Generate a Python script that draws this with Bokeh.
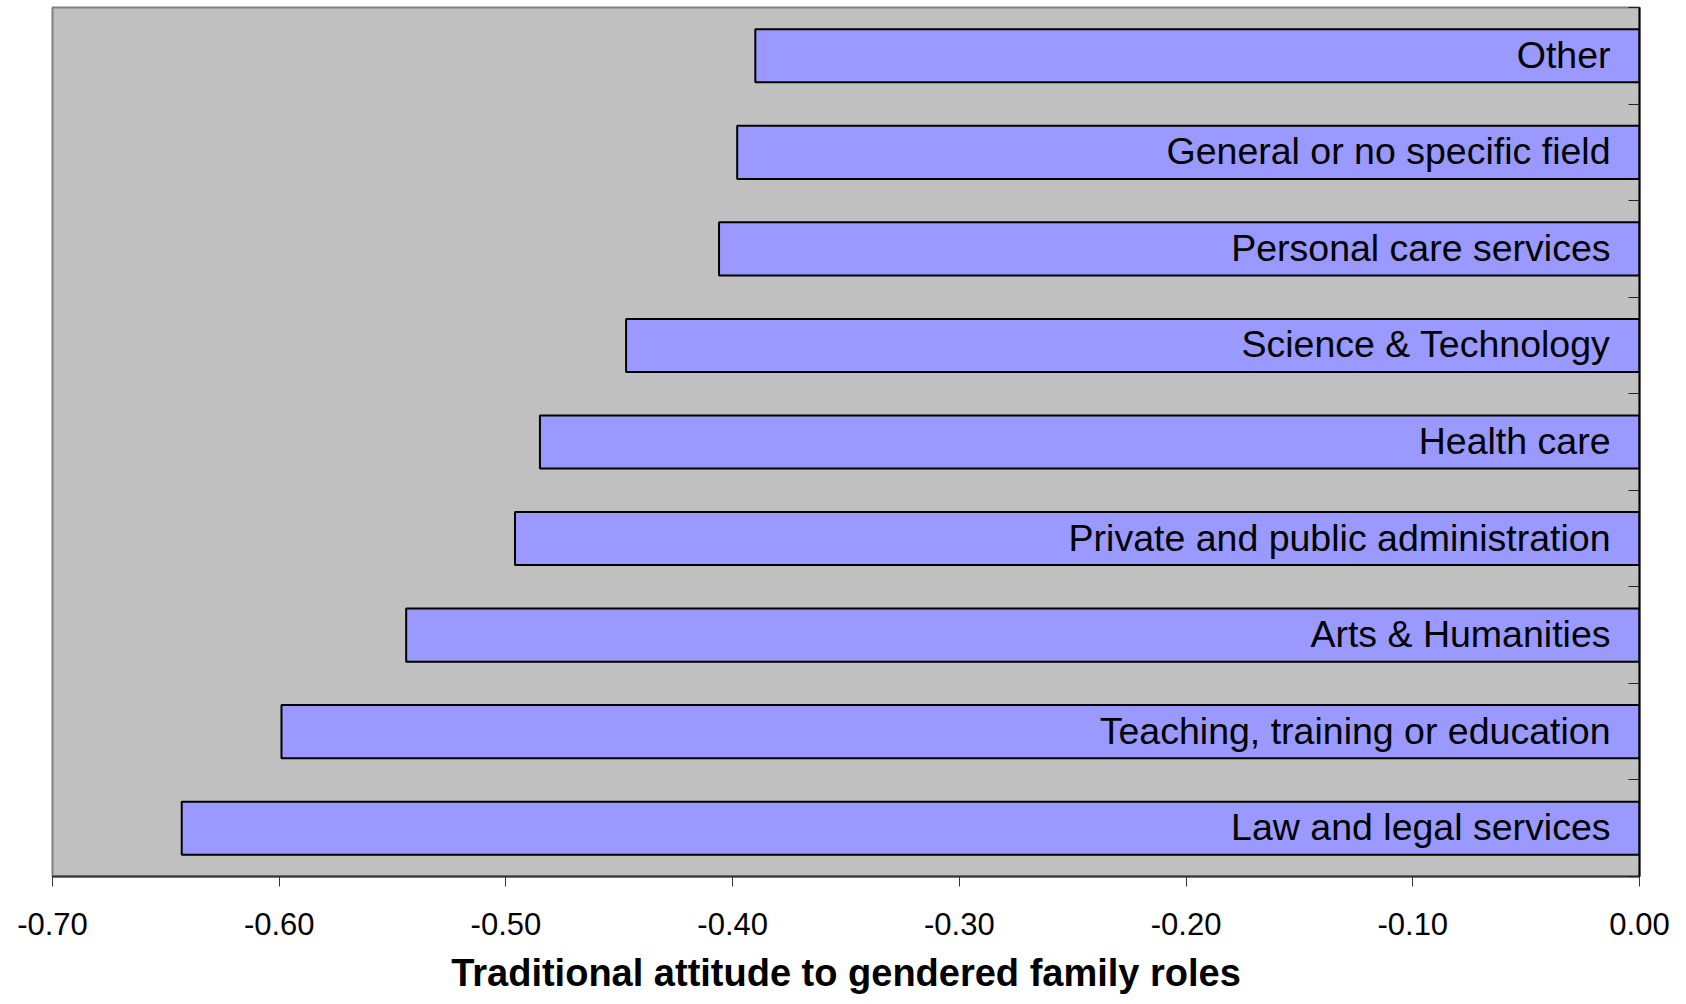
from bokeh.plotting import figure
from bokeh.models import (Range1d, FixedTicker, NumeralTickFormatter,
                          ColumnDataSource)
from bokeh.core.properties import value
from bokeh.embed import file_html
from bokeh.resources import INLINE

# data (top to bottom as shown in the chart)
categories = [
    "Other",
    "General or no specific field",
    "Personal care services",
    "Science & Technology",
    "Health care",
    "Private and public administration",
    "Arts & Humanities",
    "Teaching, training or education",
    "Law and legal services",
]
scores = [-0.390, -0.398, -0.406, -0.447, -0.485, -0.496, -0.544, -0.599, -0.643]
x_ticks = [-0.7, -0.6, -0.5, -0.4, -0.3, -0.2, -0.1, 0.0]
x_title = "Traditional attitude to gendered family roles"

n = len(categories)
# slot centres, counted from the bottom of the chart
slots = [n - 1 - i + 0.5 for i in range(n)]

src = ColumnDataSource(dict(cat=categories, val=scores, pos=slots,
                            zero=[0.0] * n))

p = figure(width=1670, height=996, output_backend="svg", toolbar_location=None,
           x_range=Range1d(-0.70, 0.0), y_range=Range1d(0, n),
           y_axis_location="right",
           min_border_left=52, min_border_right=31, min_border_top=7,
           min_border_bottom=0)

p.background_fill_color = "#c0c0c0"
p.border_fill_color = "white"
p.outline_line_color = "#808080"
p.outline_line_width = 2
p.grid.visible = False

p.hbar(y="pos", left="val", right="zero", height=0.55, source=src,
       fill_color="#9999ff", line_color="black", line_width=2)

p.text(x="zero", y="pos", text="cat", source=src, x_offset=-29, y_offset=-1,
       text_align="right", text_baseline="middle",
       text_font=value("Liberation Sans"), text_font_size="37.5px",
       text_color="black")

# right axis: boundary ticks only
ya = p.yaxis[0]
ya.ticker = FixedTicker(ticks=list(range(n + 1)))
ya.major_label_overrides = {i: "" for i in range(n + 1)}
ya.major_tick_in = 11
ya.major_tick_out = 0
ya.minor_tick_line_color = None
ya.major_label_standoff = 0
ya.axis_line_color = "black"
ya.axis_line_width = 2
ya.major_tick_line_color = "#222222"

xa = p.xaxis[0]
xa.ticker = FixedTicker(ticks=x_ticks)
xa.formatter = NumeralTickFormatter(format="0.00")
xa.major_tick_out = 10
xa.major_tick_in = 0
xa.minor_tick_line_color = None
xa.axis_line_color = "#333333"
xa.axis_line_width = 2
xa.major_tick_line_color = "#333333"
xa.major_label_text_font = "Liberation Sans"
xa.major_label_text_font_size = "31px"
xa.major_label_text_color = "black"
xa.major_label_standoff = 26
xa.axis_label = x_title
xa.axis_label_text_font = "Liberation Sans"
xa.axis_label_text_font_style = "bold"
xa.axis_label_text_font_size = "38px"
xa.axis_label_text_color = "black"
xa.axis_label_standoff = 14

open("out.html", "w").write(file_html(p, INLINE))
